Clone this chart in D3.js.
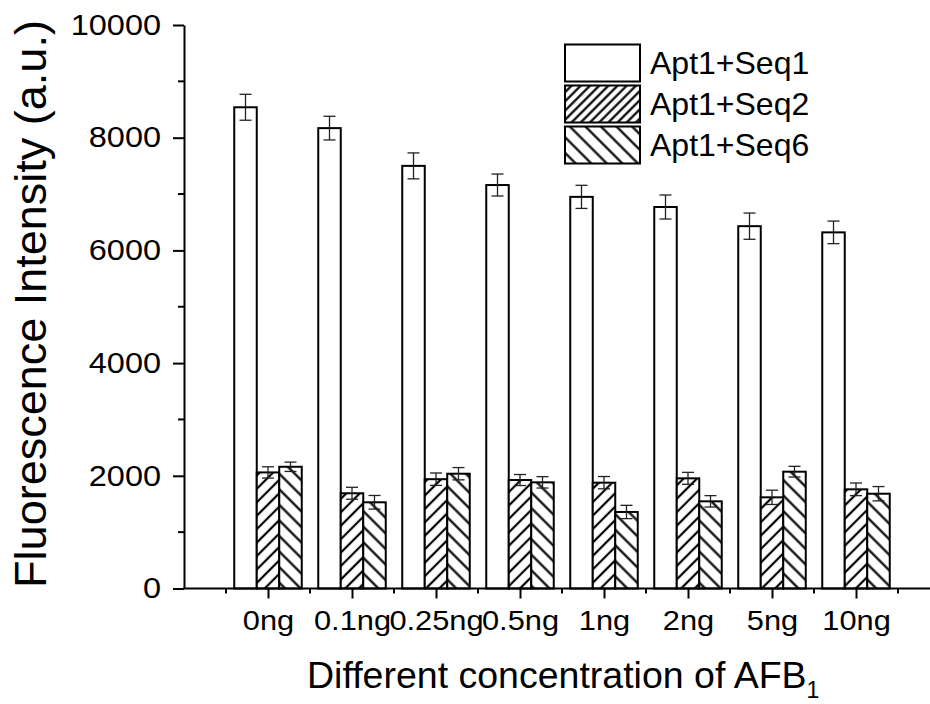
<!DOCTYPE html>
<html>
<head>
<meta charset="utf-8">
<script src="https://cdn.jsdelivr.net/npm/d3@7"></script>
<style>
  body { margin: 0; background: #fff; }
  text { font-family: "Liberation Sans", Arial, sans-serif; fill: #000; }
</style>
</head>
<body>
<svg id="chart" width="930" height="704"></svg>
<script>
// data
var categories = ["0ng", "0.1ng", "0.25ng", "0.5ng", "1ng", "2ng", "5ng", "10ng"];
var seriesNames = ["Apt1+Seq1", "Apt1+Seq2", "Apt1+Seq6"];
var seq1 = [8540, 8170, 7500, 7160, 6950, 6770, 6430, 6320];
var seq1Err = [230, 210, 230, 195, 205, 213, 233, 200];
var seq2 = [2060, 1690, 1940, 1925, 1878, 1955, 1618, 1760];
var seq2Err = [100, 106, 110, 98, 109, 106, 127, 112];
var seq6 = [2160, 1530, 2037, 1884, 1358, 1547, 2073, 1682];
var seq6Err = [83, 121, 109, 101, 118, 101, 95, 127];
var yTicks = [0, 2000, 4000, 6000, 8000, 10000];

var svg = d3.select("#chart");

// hatch patterns
var defs = svg.append("defs");
function hatch(id, angle, gap) {
    var p = defs.append("pattern")
        .attr("id", id)
        .attr("patternUnits", "userSpaceOnUse")
        .attr("width", gap)
        .attr("height", gap)
        .attr("patternTransform", "rotate(" + angle + ")");
    p.append("rect").attr("width", gap).attr("height", gap).attr("fill", "#fff");
    p.append("line")
        .attr("x1", gap / 2).attr("y1", 0)
        .attr("x2", gap / 2).attr("y2", gap)
        .attr("stroke", "#000")
        .attr("stroke-width", 2.2);
}
hatch("fwd", 45, 9.5);
hatch("back", -45, 11);
hatch("fwdLeg", 45, 6.5);
hatch("backLeg", -45, 11);

var fills = ["#fff", "url(#fwd)", "url(#back)"];
var legFills = ["#fff", "url(#fwdLeg)", "url(#backLeg)"];

// scales
var y = d3.scaleLinear().domain([0, 10000]).range([588.5, 25]);
var x = d3.scalePoint().domain(categories).range([268, 856]);
var step = x.step();
var xs = d3.scaleBand().domain(seriesNames).range([-33.75, 33.75]);

// bars
var rows = [];
categories.forEach(function(c, i) {
    rows.push({cat: c, s: 0, v: seq1[i], e: seq1Err[i]});
    rows.push({cat: c, s: 1, v: seq2[i], e: seq2Err[i]});
    rows.push({cat: c, s: 2, v: seq6[i], e: seq6Err[i]});
});

var bars = svg.append("g").attr("id", "bars");
bars.selectAll("rect")
    .data(rows)
    .join("rect")
    .attr("x", function(d) { return x(d.cat) + xs(seriesNames[d.s]); })
    .attr("y", function(d) { return y(d.v); })
    .attr("width", xs.bandwidth())
    .attr("height", function(d) { return y(0) - y(d.v); })
    .attr("fill", function(d) { return fills[d.s]; })
    .attr("stroke", "#000")
    .attr("stroke-width", 2);

// error bars
var err = svg.append("g").attr("id", "errors")
    .attr("stroke", "#222")
    .attr("stroke-width", 1.3);
rows.forEach(function(d) {
    var cx = x(d.cat) + xs(seriesNames[d.s]) + xs.bandwidth() / 2;
    err.append("line").attr("x1", cx).attr("x2", cx)
        .attr("y1", y(d.v + d.e)).attr("y2", y(d.v - d.e));
    err.append("line").attr("x1", cx - 6).attr("x2", cx + 6)
        .attr("y1", y(d.v + d.e)).attr("y2", y(d.v + d.e));
    err.append("line").attr("x1", cx - 6).attr("x2", cx + 6)
        .attr("y1", y(d.v - d.e)).attr("y2", y(d.v - d.e));
});

// y axis
var yAxis = svg.append("g")
    .attr("transform", "translate(184,0)")
    .call(d3.axisLeft(y).tickValues(yTicks).tickFormat(d3.format("d"))
        .tickSize(11).tickSizeOuter(0).tickPadding(13));
yAxis.select(".domain").attr("stroke-width", 2);
yAxis.selectAll(".tick line").attr("stroke-width", 2);
yAxis.selectAll(".tick text")
    .attr("font-size", 29)
    .attr("font-family", "Liberation Sans, Arial, sans-serif")
    .attr("transform", "scale(1.12,1)")
    .attr("x", -23 / 1.12);
// minor y ticks
svg.append("g").selectAll("line")
    .data(d3.range(1000, 10000, 2000))
    .join("line")
    .attr("x1", 178).attr("x2", 184)
    .attr("y1", function(d) { return y(d); })
    .attr("y2", function(d) { return y(d); })
    .attr("stroke", "#000").attr("stroke-width", 2);

// x axis
svg.append("line")
    .attr("x1", 183).attr("x2", 930)
    .attr("y1", y(0)).attr("y2", y(0))
    .attr("stroke", "#000").attr("stroke-width", 2);
var xAxis = svg.append("g")
    .attr("transform", "translate(0," + y(0) + ")")
    .call(d3.axisBottom(x).tickSize(10).tickSizeOuter(0).tickPadding(12));
xAxis.select(".domain").remove();
xAxis.selectAll(".tick line").attr("stroke-width", 2);
xAxis.selectAll(".tick text")
    .attr("font-size", 28)
    .attr("font-family", "Liberation Sans, Arial, sans-serif")
    .attr("transform", "scale(1.1,1)");
// minor x ticks between categories
svg.append("g").selectAll("line")
    .data(categories.concat(["end"]))
    .join("line")
    .attr("x1", function(d, i) { return x(categories[0]) + (i - 0.5) * step; })
    .attr("x2", function(d, i) { return x(categories[0]) + (i - 0.5) * step; })
    .attr("y1", y(0)).attr("y2", y(0) + 5)
    .attr("stroke", "#000").attr("stroke-width", 2);

// axis titles
var xt = svg.append("text")
    .attr("x", 307)
    .attr("y", 688)
    .attr("font-size", 37.5);
xt.append("tspan").text("Different concentration of AFB");
xt.append("tspan").attr("font-size", 23).attr("dy", 10).text("1");

svg.append("text")
    .attr("transform", "translate(46,304) rotate(-90)")
    .attr("text-anchor", "middle")
    .attr("font-size", 45)
    .text("Fluorescence Intensity (a.u.)");

// legend
var leg = svg.append("g").attr("id", "legend");
seriesNames.forEach(function(name, i) {
    var top = 44.5 + i * 41;
    leg.append("rect")
        .attr("x", 565).attr("y", top)
        .attr("width", 75).attr("height", 37)
        .attr("fill", legFills[i])
        .attr("stroke", "#000").attr("stroke-width", 2);
    leg.append("text")
        .attr("x", 650).attr("y", top + 29)
        .attr("font-size", 32)
        .text(name);
});
</script>
</body>
</html>
